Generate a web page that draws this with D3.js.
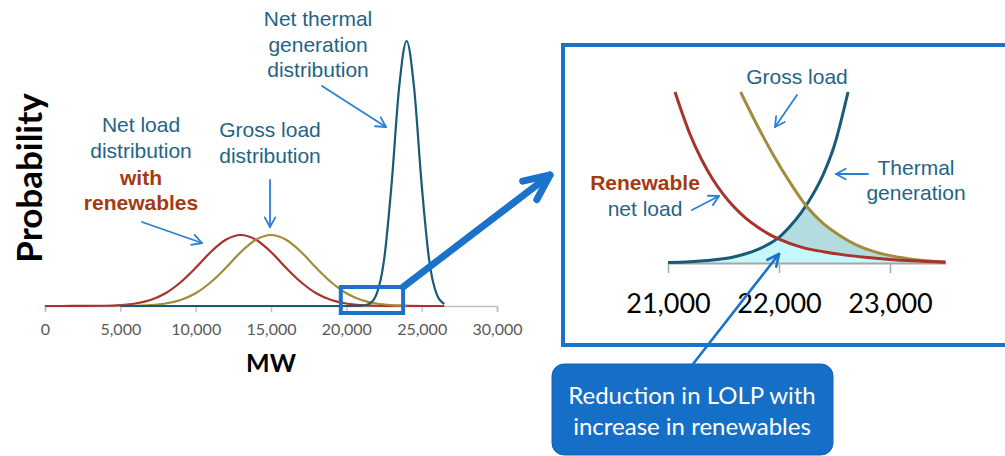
<!DOCTYPE html>
<html><head><meta charset="utf-8">
<script src="https://cdn.jsdelivr.net/npm/d3@7"></script>
<style>body{margin:0;background:#fff}svg{display:block}</style>
</head><body>
<svg id="c" width="1005" height="456"></svg>
<script>
// ---------- DATA (main chart) ----------
const mwTicks = [0, 5000, 10000, 15000, 20000, 25000, 30000];
const netLoadMW = [0, 2000, 4000, 5000, 6000, 7000, 8000, 9000, 10000, 11000, 12000, 13000, 14000, 15000, 16000, 17000, 18000, 19000, 20000, 21000, 22000, 23000, 24000, 26500];
const netLoadP  = [0, 0.0001, 0.001, 0.0033, 0.0093, 0.0227, 0.048, 0.0895, 0.144, 0.204, 0.25, 0.268, 0.25, 0.204, 0.144, 0.0895, 0.048, 0.0227, 0.0093, 0.0033, 0.001, 0.0003, 0.0001, 0];
const grossLoadMW = [5000, 6000, 7000, 8000, 9000, 10000, 11000, 12000, 13000, 14000, 15000, 16000, 17000, 18000, 19000, 20000, 21000, 22000, 23000, 24000];
const grossLoadP  = [0.0003, 0.001, 0.0033, 0.0093, 0.0227, 0.048, 0.0895, 0.144, 0.204, 0.25, 0.268, 0.25, 0.204, 0.144, 0.0895, 0.048, 0.0227, 0.0093, 0.0033, 0.001];
const thermalMW = [5000, 20000, 20500, 21000, 21500, 22000, 22500, 23000, 23500, 24000, 24500, 25000, 25500, 26000, 26500];
const thermalP  = [0, 0, 0.0001, 0.0009, 0.0076, 0.044, 0.172, 0.458, 0.822, 1.0, 0.822, 0.458, 0.172, 0.044, 0.0076];

// ---------- DATA (inset, zoomed tails) ----------
const insetTicks = [21000, 22000, 23000];
const renewNetMW = [21063, 21200, 21300, 21400, 21500, 21600, 21700, 21800, 21900, 22000, 22200, 22400, 22600, 22800, 23000, 23200, 23500];
const renewNetP  = [1.0, 0.75, 0.608, 0.493, 0.40, 0.324, 0.262, 0.213, 0.172, 0.14, 0.093, 0.066, 0.046, 0.032, 0.021, 0.013, 0.005];
const grossTailMW = [21654, 21800, 21950, 22100, 22250, 22400, 22550, 22700, 22850, 23000, 23150, 23300, 23500];
const grossTailP  = [1.0, 0.81, 0.63, 0.47, 0.33, 0.23, 0.16, 0.105, 0.068, 0.043, 0.027, 0.015, 0.006];
const thermTailMW = [21000, 21200, 21400, 21600, 21700, 21800, 21900, 22000, 22100, 22200, 22300, 22400, 22500, 22622];
const thermTailP  = [0.003, 0.0074, 0.017, 0.037, 0.054, 0.077, 0.108, 0.15, 0.215, 0.295, 0.395, 0.52, 0.69, 1.0];

// ---------- STYLE ----------
const C = {teal:"#175b76", red:"#a8322c", gold:"#a38b3c", text:"#1f6584", redText:"#a53a12",
           blue:"#1b73c9", arrow:"#2a80d6", axis:"#bfbfbf", light:"#c6f7fa", dark:"#b3dce0"};
const svg = d3.select("#c");
const zip = (xs, ys) => xs.map((v, i) => [v, ys[i]]);

// ---------- MAIN CHART ----------
const x = d3.scaleLinear().domain([0, 30000]).range([45, 497]);
const y = d3.scaleLinear().domain([0, 1]).range([306, 41]);

const ax = svg.append("g").attr("transform", "translate(0,306)")
  .call(d3.axisBottom(x).tickValues(mwTicks).tickSize(6).tickSizeOuter(6).tickFormat(d3.format(",")));
ax.select(".domain").attr("stroke", C.axis).attr("stroke-width", 1.6);
ax.selectAll(".tick line").attr("stroke", C.axis).attr("stroke-width", 1.4);
ax.selectAll(".tick text").attr("font-family", "Lato").attr("font-size", 16).attr("fill", "#595959").attr("y", 18);

const line = d3.line().x(d => x(d[0])).y(d => y(d[1])).curve(d3.curveMonotoneX);
svg.append("path").attr("d", line(zip(netLoadMW, netLoadP))).attr("fill", "none").attr("stroke", C.red).attr("stroke-width", 2.2);
svg.append("path").attr("d", line(zip(grossLoadMW, grossLoadP))).attr("fill", "none").attr("stroke", C.gold).attr("stroke-width", 2.2);
svg.append("path").attr("d", line(zip(thermalMW, thermalP))).attr("fill", "none").attr("stroke", C.teal).attr("stroke-width", 2.2);

svg.append("text").attr("transform", "translate(42,178) rotate(-90)").attr("text-anchor", "middle")
  .attr("font-family", "Lato").attr("font-weight", 700).attr("font-size", 35).attr("fill", "#000").text("Probability");
svg.append("text").attr("x", 271).attr("y", 372).attr("text-anchor", "middle")
  .attr("font-family", "Lato").attr("font-weight", 700).attr("font-size", 25).attr("fill", "#000").text("MW");

// ---------- helpers ----------
function label(cx, lines) {
  lines.forEach(l => {
    svg.append("text").attr("x", cx).attr("y", l.y).attr("text-anchor", "middle")
      .attr("font-family", "Liberation Sans, Arial, sans-serif").attr("font-size", l.size || 21)
      .attr("font-weight", l.bold ? 700 : 400).attr("fill", l.color || C.text).text(l.t);
  });
}
function arrow(x1, y1, x2, y2, o) {
  const g = svg.append("g").attr("stroke", o.color).attr("stroke-width", o.w).attr("fill", "none")
    .attr("stroke-linecap", "round").attr("stroke-linejoin", "round");
  g.append("line").attr("x1", x1).attr("y1", y1).attr("x2", x2).attr("y2", y2);
  const a = Math.atan2(y1 - y2, x1 - x2), h = o.head, s = o.spread;
  g.append("path").attr("d",
    `M${x2 + h * Math.cos(a + s)},${y2 + h * Math.sin(a + s)}L${x2},${y2}L${x2 + h * Math.cos(a - s)},${y2 + h * Math.sin(a - s)}`);
}
const thin = {color: C.arrow, w: 1.8, head: 11, spread: 0.5};

// main labels
label(318, [{t: "Net thermal", y: 26}, {t: "generation", y: 52}, {t: "distribution", y: 77}]);
label(141, [{t: "Net load", y: 132}, {t: "distribution", y: 158},
            {t: "with", y: 185, bold: true, color: C.redText}, {t: "renewables", y: 210, bold: true, color: C.redText}]);
label(270, [{t: "Gross load", y: 137}, {t: "distribution", y: 163}]);
arrow(322, 86, 386, 127, thin);
arrow(270, 180, 270, 227, thin);
arrow(142, 222, 202, 243, thin);

// zoom rectangle + big arrow
svg.append("rect").attr("x", x(19500) + 2).attr("y", 287).attr("width", x(23900) - x(19500) - 4).attr("height", 26)
  .attr("fill", "none").attr("stroke", C.blue).attr("stroke-width", 4);
arrow(x(23900) - 2, 287, 550, 175, {color: C.blue, w: 7, head: 28, spread: 0.43});

// ---------- INSET ----------
svg.append("rect").attr("x", 563).attr("y", 45).attr("width", 470).attr("height", 300)
  .attr("fill", "none").attr("stroke", C.blue).attr("stroke-width", 4);

const xi = d3.scaleLinear().domain([21000, 23500]).range([668, 945.5]);
const yi = d3.scaleLinear().domain([0, 1]).range([263, 92]);
const li = d3.line().x(d => xi(d[0])).y(d => yi(d[1])).curve(d3.curveMonotoneX);
const ai = d3.area().x(d => xi(d[0])).y0(yi(0)).y1(d => yi(d[1])).curve(d3.curveMonotoneX);

const defs = svg.append("defs");
const cp = defs.append("clipPath").attr("id", "thermClip");
cp.append("path").attr("d", ai(zip(thermTailMW, thermTailP)));
cp.append("rect").attr("x", xi(thermTailMW[thermTailMW.length - 1]) - 0.5).attr("y", yi(1))
  .attr("width", xi(23500) - xi(thermTailMW[thermTailMW.length - 1]) + 1).attr("height", yi(0) - yi(1));

svg.append("path").attr("d", ai(zip(grossTailMW, grossTailP))).attr("fill", C.dark).attr("clip-path", "url(#thermClip)");
svg.append("path").attr("d", ai(zip(renewNetMW, renewNetP))).attr("fill", C.light).attr("clip-path", "url(#thermClip)");

const axi = svg.append("g").attr("transform", "translate(0,263)")
  .call(d3.axisBottom(xi).tickValues(insetTicks).tickSize(10).tickSizeOuter(0).tickFormat(d3.format(",")));
axi.select(".domain").attr("stroke", "#a6a6a6").attr("stroke-width", 2);
axi.selectAll(".tick line").attr("stroke", "#a6a6a6").attr("stroke-width", 1.5);
axi.selectAll(".tick text").attr("font-family", "Lato").attr("font-size", 27).attr("fill", "#000").attr("y", 31);

svg.append("path").attr("d", li(zip(thermTailMW, thermTailP))).attr("fill", "none").attr("stroke", C.teal).attr("stroke-width", 3);
svg.append("path").attr("d", li(zip(grossTailMW, grossTailP))).attr("fill", "none").attr("stroke", C.gold).attr("stroke-width", 3);
svg.append("path").attr("d", li(zip(renewNetMW, renewNetP))).attr("fill", "none").attr("stroke", C.red).attr("stroke-width", 3);

label(797, [{t: "Gross load", y: 84}]);
label(916, [{t: "Thermal", y: 175}, {t: "generation", y: 200}]);
label(645, [{t: "Renewable", y: 190, bold: true, color: C.redText}, {t: "net load", y: 216}]);
arrow(797, 95, 775, 127, thin);
arrow(868, 174, 836, 174, thin);
arrow(692, 210, 719, 196, thin);

// ---------- CALLOUT ----------
svg.append("rect").attr("x", 552).attr("y", 364).attr("width", 281).attr("height", 91).attr("rx", 12)
  .attr("fill", "#166fc6").attr("stroke", "#1463b3").attr("stroke-width", 1);
[["Reduction in LOLP with", 404], ["increase in renewables", 435]].forEach(([t, yy]) =>
  svg.append("text").attr("x", 692).attr("y", yy).attr("text-anchor", "middle")
    .attr("font-family", "Lato").attr("font-size", 24).attr("fill", "#fff").text(t));
arrow(693, 364, 779, 254, {color: C.blue, w: 2.6, head: 13, spread: 0.45});
</script>
</body></html>
